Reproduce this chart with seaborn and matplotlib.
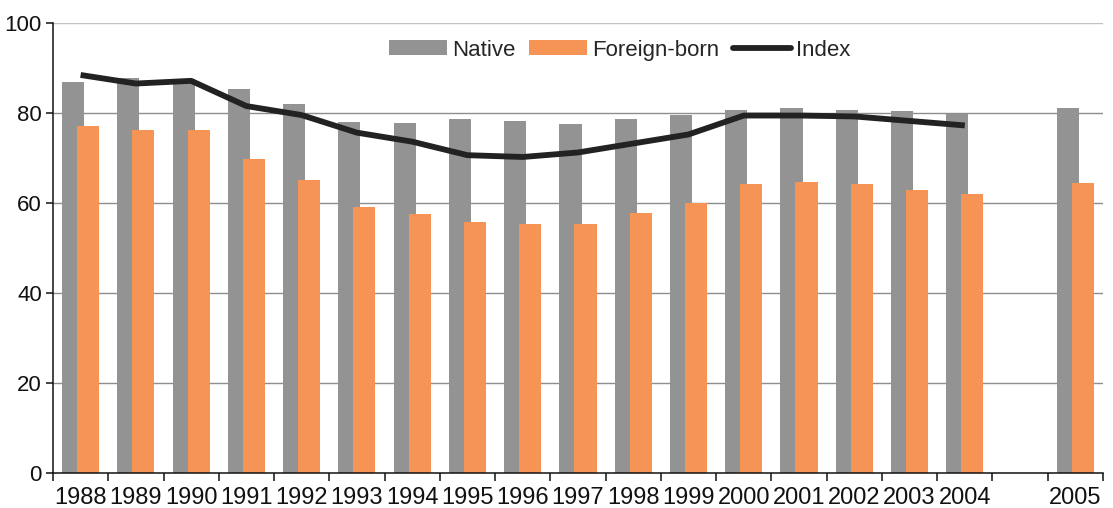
import numpy as np
import pandas as pd
import matplotlib
matplotlib.use("Agg")
import matplotlib.pyplot as plt
import seaborn as sns
from matplotlib.patches import Patch
from matplotlib.lines import Line2D
from matplotlib.ticker import FixedLocator

# ---- data ----
years = ["1988", "1989", "1990", "1991", "1992", "1993", "1994", "1995", "1996",
         "1997", "1998", "1999", "2000", "2001", "2002", "2003", "2004", "2005"]
slot_order = years[:17] + [" "] + years[17:]   # empty slot before 2005
native = [86.9, 87.7, 87.4, 85.2, 81.9, 78.0, 77.8, 78.7, 78.1,
          77.6, 78.6, 79.5, 80.7, 81.1, 80.7, 80.3, 79.7, 81.1]
foreign = [77.1, 76.1, 76.1, 69.7, 65.1, 59.0, 57.5, 55.8, 55.3,
           55.3, 57.7, 60.0, 64.1, 64.6, 64.1, 62.9, 61.9, 64.4]
index_years = years[:17]
index_vals = [88.4, 86.5, 87.1, 81.5, 79.5, 75.6, 73.6, 70.6, 70.2,
              71.2, 73.2, 75.2, 79.4, 79.4, 79.2, 78.2, 77.2]
series_names = ["Native", "Foreign-born", "Index"]
y_ticks = [0, 20, 40, 60, 80, 100]

GRAY = "#929392"
ORANGE = "#F59455"
LINE = "#222222"

df = pd.DataFrame({
    "year": years * 2,
    "value": native + foreign,
    "series": [series_names[0]] * len(years) + [series_names[1]] * len(years),
})

sns.set_theme(style="white")
plt.rcParams["font.family"] = ["Liberation Sans", "DejaVu Sans"]

fig = plt.figure(figsize=(11.13, 5.08), dpi=100)
ax = fig.add_axes([0.0476, 0.0683, 0.9434, 0.887])

sns.barplot(data=df, x="year", y="value", hue="series", order=slot_order,
            hue_order=series_names[:2], palette=[GRAY, ORANGE],
            width=0.8, saturation=1, errorbar=None, legend=False, ax=ax)

# overlap the paired bars a little, like the original
shift = 0.064
for cont, s in zip(ax.containers, [shift, -shift]):
    for p in cont.patches:
        p.set_x(p.get_x() + s)
        p.set_edgecolor("none")

pos = {y: i for i, y in enumerate(slot_order)}
sns.lineplot(x=[pos[y] for y in index_years], y=index_vals, color=LINE,
             linewidth=4.2, ax=ax, solid_joinstyle="round", solid_capstyle="butt")

ax.set_xlim(-0.5, len(slot_order) - 0.5)
ax.set_ylim(0, 100)
ax.set_yticks(y_ticks)
ax.set_xlabel("")
ax.set_ylabel("")

# grid
for yv in y_ticks[1:]:
    ax.axhline(yv, color="#c0c0c0" if yv == 100 else "#8e8e8e", lw=1.0, zorder=0)
ax.set_axisbelow(True)

for side in ["top", "right"]:
    ax.spines[side].set_visible(False)
for side in ["left", "bottom"]:
    ax.spines[side].set_visible(True)
    ax.spines[side].set_color("#111111")
    ax.spines[side].set_linewidth(1.1)

ax.tick_params(axis="x", which="major", bottom=True, length=0, pad=10,
               labelsize=17, colors="#111111")
ax.xaxis.set_minor_locator(FixedLocator(np.arange(-0.5, len(slot_order), 1.0)))
ax.tick_params(axis="x", which="minor", bottom=True, length=6, width=1.1,
               color="#111111", direction="out")
ax.tick_params(axis="y", which="major", length=5, width=1.1, color="#111111",
               direction="out", left=True, labelsize=16, labelcolor="#111111", pad=3)

handles = [Patch(facecolor=GRAY, edgecolor="none"),
           Patch(facecolor=ORANGE, edgecolor="none"),
           Line2D([0], [0], color=LINE, lw=4.2)]
ax.legend(handles, series_names, loc="center", bbox_to_anchor=(0.54, 0.939),
          ncol=3, frameon=False, fontsize=16, handlelength=2.6, handleheight=0.65,
          handletextpad=0.25, columnspacing=0.6)

fig.savefig("out.png", dpi=100)
